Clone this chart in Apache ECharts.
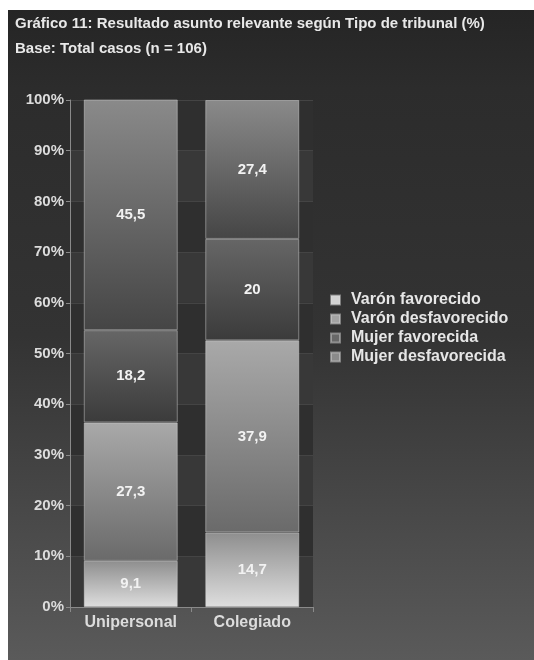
<!DOCTYPE html>
<html>
<head>
<meta charset="utf-8">
<style>
  html, body { margin: 0; padding: 0; background: #ffffff; }
  #chart { width: 534px; height: 660px; }
</style>
<script src="https://cdn.jsdelivr.net/npm/echarts@6/dist/echarts.min.js"></script>
</head>
<body>
<div id="chart"></div>
<script>
// Tribunal types (x categories)
const categories = ['Unipersonal', 'Colegiado'];

// Stacked shares (%) per outcome, bottom to top
const seriesNames = ['Varón favorecido', 'Varón desfavorecido', 'Mujer favorecida', 'Mujer desfavorecida'];
const varonFavorecido = [9.1, 14.7];
const varonDesfavorecido = [27.3, 37.9];
const mujerFavorecida = [18.2, 20];
const mujerDesfavorecida = [45.5, 27.4];

const yTicks = [0, 10, 20, 30, 40, 50, 60, 70, 80, 90, 100];

const grad = (top, bottom) => new echarts.graphic.LinearGradient(0, 0, 0, 1, [
  { offset: 0, color: top },
  { offset: 1, color: bottom }
]);

const fills = [
  grad('#8e8e8e', '#dedede'),
  grad('#a9a9a9', '#6a6a6a'),
  grad('#666666', '#3b3b3b'),
  grad('#8a8a8a', '#454545')
];
const swatches = ['#d2d2d2', '#a4a4a4', '#686868', '#8a8a8a'];
const values = [varonFavorecido, varonDesfavorecido, mujerFavorecida, mujerDesfavorecida];

const chart = echarts.init(document.getElementById('chart'), null, { renderer: 'canvas' });

const font = '"Liberation Sans", Arial, sans-serif';

chart.setOption({
  backgroundColor: '#ffffff',
  animation: false,
  graphic: [{
    type: 'rect',
    z: -10,
    silent: true,
    shape: { x: 8, y: 10, width: 526, height: 650 },
    style: {
      fill: new echarts.graphic.LinearGradient(0, 0, 0, 1, [
        { offset: 0, color: '#252525' },
        { offset: 0.12, color: '#2c2c2c' },
        { offset: 0.5, color: '#333333' },
        { offset: 1, color: '#5a5a5a' }
      ])
    }
  }],
  title: {
    text: 'Gráfico 11: Resultado asunto relevante según Tipo de tribunal (%)\nBase: Total casos (n = 106)',
    left: 10,
    top: 6,
    textStyle: {
      color: '#e8e8e8',
      fontFamily: font,
      fontWeight: 'bold',
      fontSize: 15,
      lineHeight: 25
    }
  },
  legend: {
    orient: 'vertical',
    left: 325,
    top: 287,
    icon: 'rect',
    itemWidth: 9,
    itemHeight: 9,
    itemGap: 3,
    textStyle: {
      color: '#e6e6e6',
      fontFamily: font,
      fontWeight: 'bold',
      fontSize: 16,
      padding: [0, 0, 0, 6]
    },
    data: seriesNames.map((n, i) => ({ name: n, itemStyle: { color: swatches[i] } }))
  },
  grid: { left: 70, right: 221, top: 100, bottom: 53 },
  xAxis: {
    type: 'category',
    data: categories,
    axisLine: { lineStyle: { color: '#8a8a8a', width: 1 } },
    axisTick: { show: true, alignWithLabel: false, lineStyle: { color: '#8a8a8a' } },
    axisLabel: {
      color: '#dcdcdc',
      fontFamily: font,
      fontWeight: 'bold',
      fontSize: 16,
      margin: 8
    }
  },
  yAxis: {
    type: 'value',
    min: 0,
    max: 100,
    interval: 10,
    axisLine: { show: true, lineStyle: { color: '#8a8a8a', width: 1 } },
    axisTick: { show: true, length: 4, lineStyle: { color: '#8a8a8a' } },
    axisLabel: {
      color: '#dcdcdc',
      fontFamily: font,
      fontWeight: 'bold',
      fontSize: 15,
      margin: 6,
      formatter: v => (yTicks.includes(v) ? v + '%' : '')
    },
    splitLine: { show: true, lineStyle: { color: '#444444', width: 1 } },
    splitArea: { show: true, areaStyle: { color: ['#383838', '#2f2f2f'] } }
  },
  series: seriesNames.map((name, i) => ({
    name: name,
    type: 'bar',
    stack: 'total',
    barWidth: 94,
    data: values[i],
    itemStyle: {
      color: fills[i],
      borderColor: 'rgba(220,220,220,0.45)',
      borderWidth: 1
    },
    label: {
      show: true,
      position: 'inside',
      color: '#f2f2f2',
      fontFamily: font,
      fontWeight: 'bold',
      fontSize: 15,
      formatter: p => String(p.value).replace('.', ',')
    }
  }))
});
</script>
</body>
</html>
